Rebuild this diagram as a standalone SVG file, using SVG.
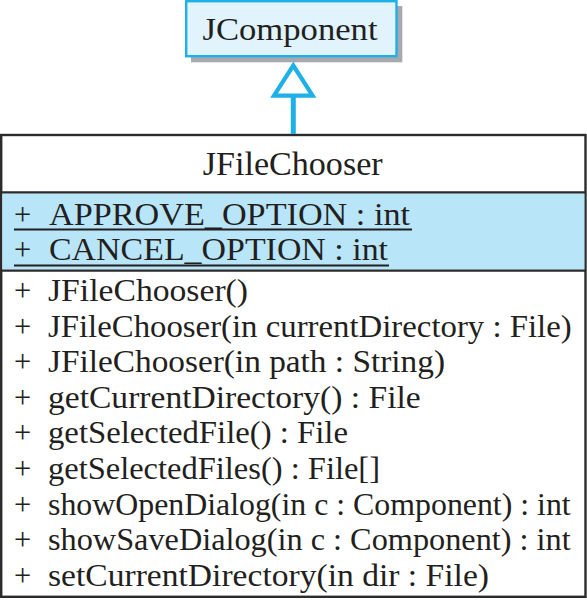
<svg xmlns="http://www.w3.org/2000/svg" width="587" height="600" viewBox="0 0 587 600">
<style>
.t{font-family:'Liberation Serif','Times New Roman',Times,serif;font-size:30.5px;fill:#231f20}
.title{font-size:33px}
.box{fill:#ffffff;stroke:#2b2b2b;stroke-width:2.4}
.sep{stroke:#2b2b2b;stroke-width:2.2}
.ul{stroke:#231f20;stroke-width:2}
</style>
<rect width="587" height="600" fill="#ffffff"/>
<g id="JComponent" class="t">
<rect x="191" y="6" width="211.3" height="56.3" fill="#a7a9ac"/>
<rect x="186.2" y="1.2" width="210.3" height="55" fill="#e1f3fc" stroke="#1eb0e6" stroke-width="2.4"/>
<text x="290" y="40" text-anchor="middle" textLength="175" lengthAdjust="spacingAndGlyphs">JComponent</text>
</g>
<g id="JFileChooser" class="t">
<rect class="box" x="1.2" y="135" width="584.3" height="461.8"/>
<rect x="2.4" y="193.4" width="581.9" height="76.2" fill="#b9e5f9"/>
<line class="sep" x1="1.2" y1="192.3" x2="585.5" y2="192.3"/>
<line class="sep" x1="1.2" y1="270.7" x2="585.5" y2="270.7"/>
<text class="title" x="292.7" y="175" text-anchor="middle" textLength="180" lengthAdjust="spacingAndGlyphs">JFileChooser</text>
<text x="14" y="225">+</text>
<text x="49" y="225" textLength="361" lengthAdjust="spacingAndGlyphs">APPROVE_OPTION : int</text>
<line class="ul" x1="14" y1="229.5" x2="412" y2="229.5"/>
<text x="14" y="259.5">+</text>
<text x="49" y="259.5" textLength="339" lengthAdjust="spacingAndGlyphs">CANCEL_OPTION : int</text>
<line class="ul" x1="14" y1="265.5" x2="389" y2="265.5"/>
<text x="14" y="301">+</text>
<text x="48" y="301" textLength="200" lengthAdjust="spacingAndGlyphs">JFileChooser()</text>
<text x="14" y="336.6">+</text>
<text x="48" y="336.6" textLength="523.7" lengthAdjust="spacingAndGlyphs">JFileChooser(in currentDirectory : File)</text>
<text x="14" y="372.2">+</text>
<text x="48" y="372.2" textLength="397" lengthAdjust="spacingAndGlyphs">JFileChooser(in path : String)</text>
<text x="14" y="407.8">+</text>
<text x="48" y="407.8" textLength="372.7" lengthAdjust="spacingAndGlyphs">getCurrentDirectory() : File</text>
<text x="14" y="443.4">+</text>
<text x="48" y="443.4" textLength="300" lengthAdjust="spacingAndGlyphs">getSelectedFile() : File</text>
<text x="14" y="479">+</text>
<text x="48" y="479" textLength="332" lengthAdjust="spacingAndGlyphs">getSelectedFiles() : File[]</text>
<text x="14" y="514.6">+</text>
<text x="48" y="514.6" textLength="522.7" lengthAdjust="spacingAndGlyphs">showOpenDialog(in c : Component) : int</text>
<text x="14" y="550.2">+</text>
<text x="48" y="550.2" textLength="522.7" lengthAdjust="spacingAndGlyphs">showSaveDialog(in c : Component) : int</text>
<text x="14" y="585.8">+</text>
<text x="48" y="585.8" textLength="441" lengthAdjust="spacingAndGlyphs">setCurrentDirectory(in dir : File)</text>
</g>
<g id="connectors">
<line x1="293.3" y1="97" x2="293.3" y2="134" stroke="#1eb0e6" stroke-width="5"/>
<polygon points="293.3,65.5 274,95.7 312.6,95.7" fill="#ffffff" stroke="#1eb0e6" stroke-width="4.2" stroke-linejoin="miter"/>
</g>
</svg>
